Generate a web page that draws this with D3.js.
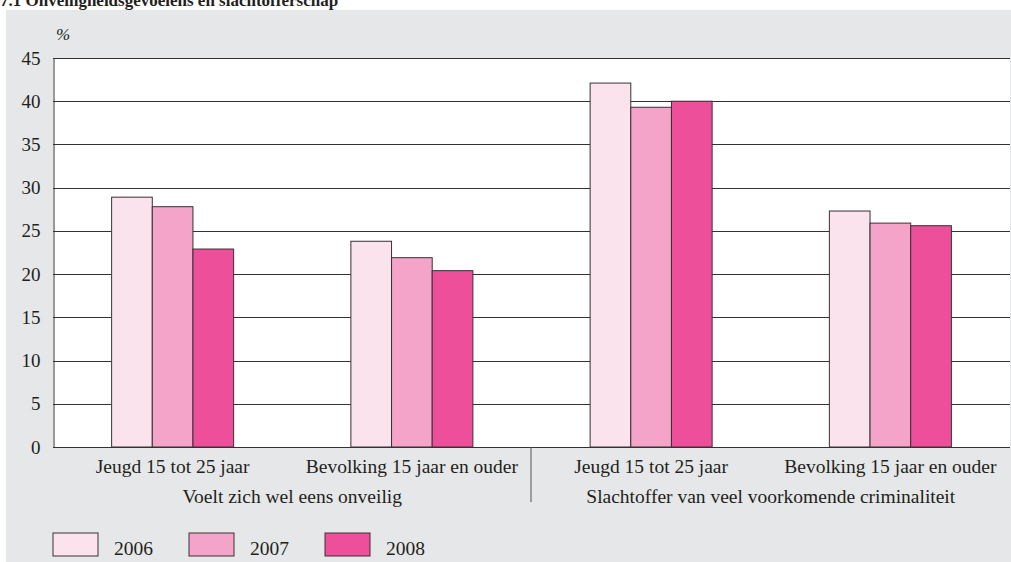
<!DOCTYPE html>
<html>
<head>
<meta charset="utf-8">
<script src="https://cdn.jsdelivr.net/npm/d3@7"></script>
<style>
  body { margin: 0; background: #fff; }
  text { font-family: "Liberation Serif", "DejaVu Serif", serif; fill: #231f20; }
</style>
</head>
<body>
<svg id="chart" width="1011" height="562"></svg>
<script>
// data
var categories = ["Jeugd 15 tot 25 jaar", "Bevolking 15 jaar en ouder", "Jeugd 15 tot 25 jaar", "Bevolking 15 jaar en ouder"];
var groups = ["Voelt zich wel eens onveilig", "Slachtoffer van veel voorkomende criminaliteit"];
var years = ["2006", "2007", "2008"];
var v2006 = [28.9, 23.8, 42.1, 27.3];
var v2007 = [27.8, 21.9, 39.3, 25.9];
var v2008 = [22.9, 20.4, 40.0, 25.6];
var yTicks = [0, 5, 10, 15, 20, 25, 30, 35, 40, 45];
var colors = ["#fbe3ee", "#f4a4c8", "#ee4f9b"];

var series = [v2006, v2007, v2008];
var svg = d3.select("#chart");

// gray panel + title
svg.append("rect").attr("x", 6).attr("y", 10).attr("width", 1005).attr("height", 552).attr("fill", "#e6e7e8");
svg.append("text").attr("x", 0).attr("y", 6).attr("font-weight", "bold").attr("font-size", 17)
    .text("7.1 Onveiligheidsgevoelens en slachtofferschap");

var x = d3.scaleBand().domain(d3.range(categories.length)).range([53, 1010]);
var y = d3.scaleLinear().domain([0, 45]).range([447, 58]);
var xs = d3.scaleBand().domain(years).range([0, 122]);

// plot area
svg.append("rect").attr("x", 53).attr("y", y(45)).attr("width", 1010 - 53).attr("height", y(0) - y(45)).attr("fill", "#fff");

// gridlines
svg.append("g").selectAll("line").data(yTicks).join("line")
    .attr("x1", 53).attr("x2", 1010)
    .attr("y1", function (d) { return Math.round(y(d)) + 0.5; })
    .attr("y2", function (d) { return Math.round(y(d)) + 0.5; })
    .attr("stroke", "#333").attr("stroke-width", 1);

// y axis
var yAxis = svg.append("g").attr("transform", "translate(53.5,0)")
    .call(d3.axisLeft(y).tickValues(yTicks).tickSize(0).tickPadding(13));
yAxis.select(".domain").attr("stroke", "#333");
yAxis.selectAll("text").attr("font-size", 19).attr("font-family", "Liberation Serif, serif").attr("fill", "#231f20");

svg.append("text").attr("x", 56).attr("y", 40).attr("font-style", "italic").attr("font-size", 17).text("%");

// bars
series.forEach(function (vals, s) {
    svg.append("g").selectAll("rect").data(vals).join("rect")
        .attr("x", function (d, i) { return x(i) + x.bandwidth() / 2 - 61 + xs(years[s]); })
        .attr("y", function (d) { return y(d); })
        .attr("width", xs.bandwidth())
        .attr("height", function (d) { return y(0) - y(d); })
        .attr("fill", colors[s])
        .attr("stroke", "#3a3033").attr("stroke-width", 1);
});

// x labels
svg.append("g").selectAll("text").data(categories).join("text")
    .attr("x", function (d, i) { return x(i) + x.bandwidth() / 2; })
    .attr("y", 473).attr("text-anchor", "middle").attr("font-size", 19.5)
    .text(function (d) { return d; });
svg.append("g").selectAll("text").data(groups).join("text")
    .attr("x", function (d, i) { return x(i * 2) + x.bandwidth(); })
    .attr("y", 503).attr("text-anchor", "middle").attr("font-size", 19.5)
    .text(function (d) { return d; });
svg.append("line").attr("x1", x(2) - 0.5).attr("x2", x(2) - 0.5).attr("y1", 447).attr("y2", 502)
    .attr("stroke", "#555");

// legend
var leg = svg.append("g").selectAll("g").data(years).join("g")
    .attr("transform", function (d, i) { return "translate(" + [53 + i * 136, 533] + ")"; });
leg.append("rect").attr("width", 45).attr("height", 23)
    .attr("fill", function (d, i) { return colors[i]; })
    .attr("stroke", "#3a3033");
leg.append("text").attr("x", 61).attr("y", 22).attr("font-size", 19.5).text(function (d) { return d; });
</script>
</body>
</html>
